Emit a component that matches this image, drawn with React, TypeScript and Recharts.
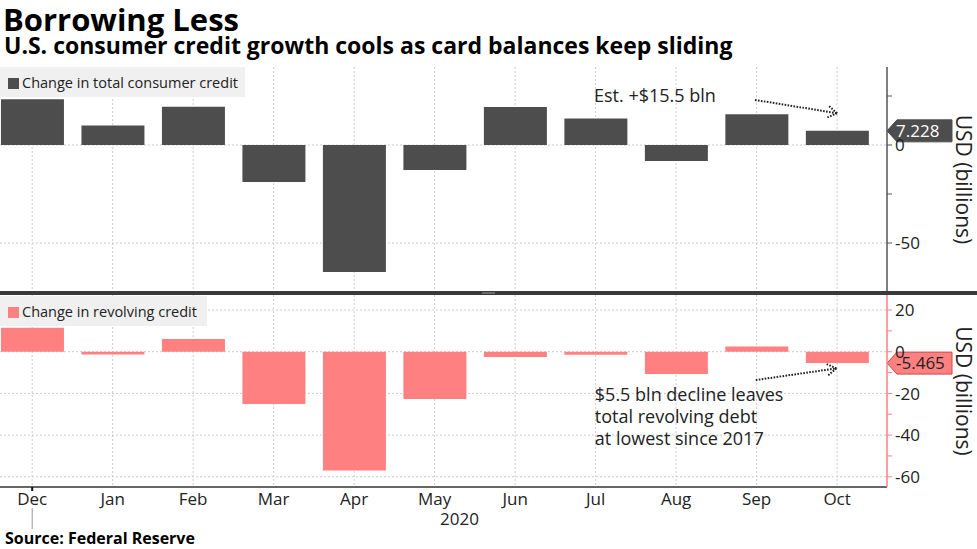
import React from 'react';
import { BarChart, Bar, XAxis, YAxis, CartesianGrid, ReferenceLine } from 'recharts';

// ---- data ----
const months = ['Dec', 'Jan', 'Feb', 'Mar', 'Apr', 'May', 'Jun', 'Jul', 'Aug', 'Sep', 'Oct'];
const totalCredit = [23.4, 10.0, 19.5, -18.9, -64.8, -12.8, 19.4, 13.5, -8.2, 15.7, 7.228];
const revolvingCredit = [11.5, -1.3, 6.1, -25.1, -57.0, -22.7, -2.5, -1.5, -10.7, 2.5, -5.465];
const xTicks = [0, 1, 2, 3, 4, 5, 6, 7, 8, 9, 10];
const topTicks = [-75, -50, -25, 0, 25];
const topLabeled = [-50, 0];
const bottomTicks = [-60, -50, -40, -30, -20, -10, 0, 10, 20];
const bottomLabeled = [-60, -40, -20, 0, 20];
const latestTotal = 7.228;
const latestRevolving = -5.465;
const latestTotalText = '7.228';
const latestRevolvingText = '-5.465';
const yearLabel = '2020';
const topNote = ['Est. +$15.5 bln'];
const bottomNote = ['$5.5 bln decline leaves', 'total revolving debt', 'at lowest since 2017'];
const topArrow = [{ x: 8.98, y: 23.0 }, { x: 10.0, y: 16.2 }];
const bottomArrow = [{ x: 8.99, y: -13.6 }, { x: 9.99, y: -8.0 }];

const data = months.map((m, i) => ({ i, month: m, total: totalCredit[i], revolving: revolvingCredit[i] }));

const FONT = '"Open Sans", "DejaVu Sans", sans-serif';
const DARK = '#4d4d4d';
const PINK = '#ff8080';
const X_DOMAIN: [number, number] = [-0.4, 10.62];

const makeYTick = (labeled: number[]) => (props: any) => {
  const { x, y, payload } = props;
  const v = payload.value;
  if (!labeled.includes(v)) return <g />;
  return (
    <text x={x} y={y} dy="0.36em" fontSize={17} fill="#222" fontFamily={FONT} textAnchor="start">
      {String(v)}
    </text>
  );
};

const yLabel = (props: any) => {
  const vb = props.viewBox || {};
  const cx = vb.x + 77;
  const cy = vb.y + vb.height / 2;
  return (
    <text x={cx} y={cy} transform={`rotate(90 ${cx} ${cy})`} textAnchor="middle" dy="0.36em"
      fontSize={21} fill="#222" fontFamily={FONT}>
      USD (billions)
    </text>
  );
};

const makeCallout = (text: string, fill: string, stroke: string, color: string) => (p: any) => {
  const x = Math.max(p.x1, p.x2);
  const y = p.y1;
  const h = 11;
  return (
    <g>
      <polygon
        points={`${x},${y} ${x + 10},${y - h} ${x + 65},${y - h} ${x + 65},${y + h} ${x + 10},${y + h}`}
        fill={fill} stroke={stroke} strokeWidth={1}
      />
      <text x={x + 9} y={y} dy="0.36em" fontSize={17} fill={color} fontFamily={FONT}>{text}</text>
    </g>
  );
};

const makeArrow = (lines: string[], textDy: number) => (p: any) => {
  const { x1, y1, x2, y2 } = p;
  const ang = Math.atan2(y2 - y1, x2 - x1);
  const len = 12;
  const a1 = ang + Math.PI * 0.82;
  const a2 = ang - Math.PI * 0.82;
  return (
    <g>
      <line x1={x1} y1={y1} x2={x2} y2={y2} stroke="#222" strokeWidth={2} strokeDasharray="1.6 1.4" />
      <line x1={x2} y1={y2} x2={x2 + len * Math.cos(a1)} y2={y2 + len * Math.sin(a1)} stroke="#222" strokeWidth={2} strokeDasharray="1.6 1.4" />
      <line x1={x2} y1={y2} x2={x2 + len * Math.cos(a2)} y2={y2 + len * Math.sin(a2)} stroke="#222" strokeWidth={2} strokeDasharray="1.6 1.4" />
      {lines.map((t, k) => (
        <text key={k} x={x1 - 161} y={y1 + textDy + k * 22} fontSize={18} fill="#222" fontFamily={FONT}>{t}</text>
      ))}
    </g>
  );
};

const XTick = (props: any) => {
  const { x, y, payload } = props;
  const idx = payload.value;
  return (
    <g>
      {idx === 0 && <line x1={x} y1={y} x2={x} y2={y + 4} stroke="#111" strokeWidth={2} />}
      {idx === 0 && <line x1={x} y1={y + 21} x2={x} y2={y + 42} stroke="#999" strokeWidth={1} />}
      <text x={x} y={y + 18} textAnchor="middle" fontSize={17} fill="#222" fontFamily={FONT}>{months[idx]}</text>
    </g>
  );
};

const yearLabelContent = (props: any) => {
  const vb = props.viewBox || {};
  return (
    <text x={vb.x + vb.width / 2 + 16} y={vb.y + 38} textAnchor="middle" fontSize={17} fill="#222" fontFamily={FONT}>
      {yearLabel}
    </text>
  );
};

export default function App() {
  return (
    <div style={{ position: 'absolute', left: 0, top: 0, width: 977, height: 549, background: '#fff', fontFamily: FONT, overflow: 'hidden' }}>
      {/* Top chart */}
      <div style={{ position: 'absolute', left: 0, top: 0 }}>
        <BarChart width={977} height={292} data={data} margin={{ top: 67, right: 0, bottom: 0, left: 0 }}>
          <CartesianGrid strokeDasharray="2 2" stroke="#cccccc" verticalValues={xTicks} horizontalValues={topLabeled} />
          <XAxis type="number" dataKey="i" domain={X_DOMAIN} ticks={xTicks} hide allowDataOverflow />
          <YAxis orientation="right" width={90} domain={[-75, 39.8]} ticks={topTicks} allowDataOverflow
            axisLine={{ stroke: '#555', strokeWidth: 1.5 }} tickLine={{ stroke: '#555' }} tickSize={5} tickMargin={3}
            tick={makeYTick(topLabeled)} interval={0} label={yLabel} />
          <Bar dataKey="total" fill={DARK} barSize={63} isAnimationActive={false} />
          <ReferenceLine segment={topArrow} ifOverflow="visible" shape={makeArrow(topNote, 2)} />
          <ReferenceLine y={latestTotal} ifOverflow="visible" stroke="none"
            shape={makeCallout(latestTotalText, DARK, DARK, '#fff')} />
        </BarChart>
      </div>
      {/* Bottom chart */}
      <div style={{ position: 'absolute', left: 0, top: 295 }}>
        <BarChart width={977} height={254} data={data} margin={{ top: 0, right: 0, bottom: 0, left: 0 }}>
          <CartesianGrid strokeDasharray="2 2" stroke="#cccccc" verticalValues={xTicks} horizontalValues={bottomLabeled} />
          <XAxis type="number" dataKey="i" domain={X_DOMAIN} ticks={xTicks} allowDataOverflow height={62}
            axisLine={{ stroke: '#333', strokeWidth: 1.5 }} tickLine={false} tickSize={0} tickMargin={0}
            tick={<XTick />} interval={0} label={yearLabelContent} />
          <YAxis orientation="right" width={90} domain={[-64.9, 27.2]} ticks={bottomTicks} allowDataOverflow
            axisLine={{ stroke: PINK, strokeWidth: 1.5 }} tickLine={{ stroke: PINK }} tickSize={5} tickMargin={3}
            tick={makeYTick(bottomLabeled)} interval={0} label={yLabel} />
          <Bar dataKey="revolving" fill={PINK} barSize={63} isAnimationActive={false} />
          <ReferenceLine segment={bottomArrow} ifOverflow="visible" shape={makeArrow(bottomNote, 21)} />
          <ReferenceLine y={latestRevolving} ifOverflow="visible" stroke="none"
            shape={makeCallout(latestRevolvingText, PINK, '#c84a4a', '#222')} />
        </BarChart>
      </div>
      {/* separator */}
      <div style={{ position: 'absolute', left: 0, top: 291, width: 977, height: 4, background: '#3a3a3a' }} />
      <div style={{ position: 'absolute', left: 482, top: 292, width: 13, height: 2, background: '#6a6a6a' }} />
      {/* legends */}
      <div style={{ position: 'absolute', left: 0, top: 67, width: 245, height: 30, background: '#f0f0f0' }}>
        <div style={{ position: 'absolute', left: 8, top: 11, width: 11, height: 11, background: DARK }} />
        <div style={{ position: 'absolute', left: 22, top: 6, fontSize: 14.5, lineHeight: '19px', color: '#222', whiteSpace: 'nowrap' }}>
          Change in total consumer credit
        </div>
      </div>
      <div style={{ position: 'absolute', left: 0, top: 296, width: 207, height: 30, background: '#f0f0f0' }}>
        <div style={{ position: 'absolute', left: 8, top: 11, width: 11, height: 11, background: PINK }} />
        <div style={{ position: 'absolute', left: 22, top: 6, fontSize: 14.5, lineHeight: '19px', color: '#222', whiteSpace: 'nowrap' }}>
          Change in revolving credit
        </div>
      </div>
      {/* titles and source */}
      <svg width={977} height={549} style={{ position: 'absolute', left: 0, top: 0, pointerEvents: 'none' }}>
        <text x={3} y={31} fontSize={31} fontWeight="bold" fill="#000" fontFamily={FONT}>Borrowing Less</text>
        <text x={4} y={54} fontSize={23} fontWeight="bold" fill="#000" fontFamily={FONT}>
          U.S. consumer credit growth cools as card balances keep sliding
        </text>
        <text x={5} y={544} fontSize={16} fontWeight="bold" fill="#000" fontFamily={FONT}>Source: Federal Reserve</text>
      </svg>
    </div>
  );
}
